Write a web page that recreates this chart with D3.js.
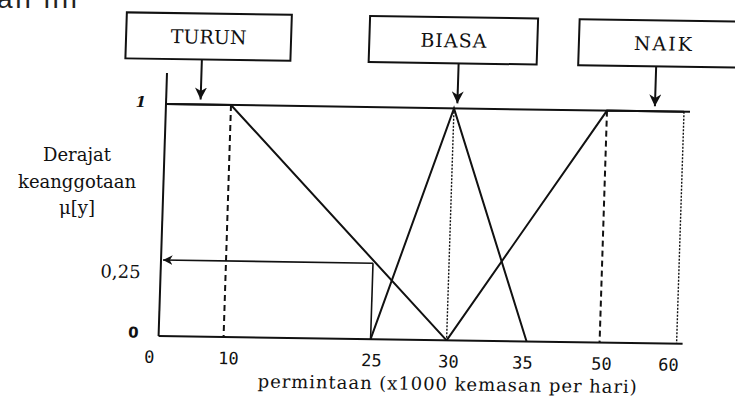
<!DOCTYPE html>
<html>
<head>
<meta charset="utf-8">
<script src="https://cdn.jsdelivr.net/npm/d3@7"></script>
<style>
  body { margin: 0; background: #fff; }
  svg { display: block; }
</style>
</head>
<body>
<div id="chart"></div>
<script>
// membership functions
var xTicks = [0, 10, 25, 30, 35, 50, 60];
var xTickLabels = ["0", "10", "25", "30", "35", "50", "60"];
var yTicks = [0, 0.25, 1];
var yTickLabels = ["0", "0,25", "1"];

var turun = [[0, 1], [10, 1], [30, 0]];
var biasa = [[25, 0], [30, 1], [35, 0]];
var naik = [[30, 0], [50, 1], [60, 1]];

var dashedAt = [10, 50];
var dottedAt = [30, 60];

var queryX = 25, queryMu = 0.25;

var setNames = ["TURUN", "BIASA", "NAIK"];
var setArrowX = [5.3, 30.2, 56.2];

function drawChart() {
    var width = 735, height = 408,
        plotW = 518, plotH = 232;

    // the printed axis is not evenly spaced, so the scale is piecewise
    var x = d3.scaleLinear().domain(xTicks).range([0, 65, 212, 288, 368, 441, plotW]),
        y = d3.scaleLinear().domain(yTicks).range([plotH, 156, 0]);

    var line = d3.line()
        .x(function (d) { return x(d[0]); })
        .y(function (d) { return y(d[1]); });

    var svg = d3.select("#chart").append("svg")
        .attr("width", width)
        .attr("height", height);

    svg.append("rect").attr("width", width).attr("height", height).attr("fill", "#fff");

    var defs = svg.append("defs");
    defs.append("marker")
        .attr("id", "head")
        .attr("viewBox", "0 0 10 10")
        .attr("refX", 10).attr("refY", 5)
        .attr("markerWidth", 6).attr("markerHeight", 6)
        .attr("markerUnits", "strokeWidth")
        .attr("orient", "auto")
        .append("path")
        .attr("d", "M0,0L10,5L0,10L3,5Z")
        .attr("fill", "#111");

    // cut-off line of the page above the figure (cut in the scan too)
    svg.append("text")
        .attr("x", -3).attr("y", 8)
        .attr("font-family", "Liberation Sans, Arial, sans-serif")
        .attr("font-size", 28)
        .attr("textLength", 80)
        .attr("fill", "#222")
        .text("an ini");

    // y axis title
    var ytitle = svg.append("text")
        .attr("font-family", "DejaVu Serif, serif")
        .attr("font-size", 18)
        .attr("text-anchor", "middle")
        .attr("fill", "#111");
    ["Derajat", "keanggotaan", "\u03bc[y]"].forEach(function (t, i) {
        ytitle.append("tspan")
            .attr("x", 77)
            .attr("y", 161 + i * 26.5)
            .text(t);
    });

    // the scan is slightly rotated and skewed
    var g = svg.append("g")
        .attr("transform", "matrix(1,0.015,-0.032,1,166,104)");

    // frame: left axis, bottom axis, line at mu = 1
    g.append("line").attr("x1", 0).attr("x2", 0).attr("y1", -31).attr("y2", plotH)
        .attr("stroke", "#111").attr("stroke-width", 2);
    g.append("line").attr("x1", 0).attr("x2", plotW + 6).attr("y1", plotH).attr("y2", plotH)
        .attr("stroke", "#111").attr("stroke-width", 2);
    g.append("line").attr("x1", 0).attr("x2", plotW + 6).attr("y1", y(1)).attr("y2", y(1))
        .attr("stroke", "#111").attr("stroke-width", 2);

    g.selectAll(".dashed")
        .data(dashedAt)
        .enter().append("line")
        .attr("class", "dashed")
        .attr("x1", x).attr("x2", x)
        .attr("y1", y(1)).attr("y2", y(0))
        .attr("stroke", "#111").attr("stroke-width", 2)
        .attr("stroke-dasharray", "6,4");

    g.selectAll(".dotted")
        .data(dottedAt)
        .enter().append("line")
        .attr("class", "dotted")
        .attr("x1", x).attr("x2", x)
        .attr("y1", y(1)).attr("y2", y(0))
        .attr("stroke", "#111").attr("stroke-width", 1.4)
        .attr("stroke-dasharray", "2,1.5");

    [turun, biasa, naik].forEach(function (s) {
        g.append("path")
            .datum(s)
            .attr("d", line)
            .attr("fill", "none")
            .attr("stroke", "#111")
            .attr("stroke-width", 2);
    });

    // reading mu at 25
    g.append("line")
        .attr("x1", x(queryX)).attr("x2", x(queryX))
        .attr("y1", y(0)).attr("y2", y(queryMu))
        .attr("stroke", "#111").attr("stroke-width", 1.6);
    g.append("line")
        .attr("x1", x(queryX)).attr("x2", x(0) + 2)
        .attr("y1", y(queryMu)).attr("y2", y(queryMu))
        .attr("stroke", "#111").attr("stroke-width", 1.6)
        .attr("marker-end", "url(#head)");

    // tick labels, nudged like the printed ones
    var tickNudge = [-9, 5, 1, 2, -4, 2, -8];

    var xAxis = d3.axisBottom(x)
        .tickValues(xTicks)
        .tickSize(0)
        .tickFormat(function (d, i) { return xTickLabels[i]; });

    var xg = g.append("g")
        .attr("transform", "translate(0," + (plotH + 12) + ")")
        .call(xAxis);
    xg.select(".domain").remove();
    xg.selectAll("text")
        .attr("font-family", "DejaVu Sans Mono, monospace")
        .attr("font-size", 17)
        .attr("fill", "#111")
        .attr("dx", function (d, i) { return tickNudge[i]; });

    var yAxis = d3.axisLeft(y)
        .tickValues(yTicks)
        .tickSize(0)
        .tickPadding(20)
        .tickFormat(function (d, i) { return yTickLabels[i]; });

    var yg = g.append("g").call(yAxis);
    yg.select(".domain").remove();
    yg.selectAll("text")
        .attr("fill", "#111")
        .attr("font-family", function (d) { return d === 0 ? "DejaVu Sans, sans-serif" : "DejaVu Serif, serif"; })
        .attr("font-size", function (d) { return d === 0.25 ? 18 : 15; })
        .attr("font-weight", function (d) { return d === 0.25 ? "normal" : "bold"; })
        .attr("font-style", function (d) { return d === 1 ? "italic" : "normal"; })
        .attr("dy", function (d) { return d === 0.25 ? "1.0em" : d === 0 ? "0.1em" : "0.2em"; });

    g.append("text")
        .attr("x", 290)
        .attr("y", 282)
        .attr("text-anchor", "middle")
        .attr("font-family", "DejaVu Serif, serif")
        .attr("font-size", 18)
        .attr("textLength", 379)
        .attr("fill", "#111")
        .text("permintaan (x1000 kemasan per hari)");

    // set name boxes with arrows down to mu = 1
    var boxOffset = [6, -6, 6];
    var boxW = [165, 168, 168];
    var labelW = [76, 66, 58];

    var sets = g.selectAll(".set")
        .data(setNames)
        .enter().append("g")
        .attr("class", "set");

    sets.append("rect")
        .attr("x", function (d, i) { return x(setArrowX[i]) + boxOffset[i] - boxW[i] / 2; })
        .attr("y", -91)
        .attr("width", function (d, i) { return boxW[i]; })
        .attr("height", 46)
        .attr("fill", "#fff")
        .attr("stroke", "#111")
        .attr("stroke-width", 2);

    sets.append("text")
        .attr("x", function (d, i) { return x(setArrowX[i]) + boxOffset[i]; })
        .attr("y", -61)
        .attr("text-anchor", "middle")
        .attr("font-family", "DejaVu Serif, serif")
        .attr("font-size", 19)
        .attr("textLength", function (d, i) { return labelW[i]; })
        .attr("fill", "#111")
        .text(function (d) { return d; });

    sets.append("line")
        .attr("x1", function (d, i) { return x(setArrowX[i]); })
        .attr("x2", function (d, i) { return x(setArrowX[i]); })
        .attr("y1", -45)
        .attr("y2", -5)
        .attr("stroke", "#111")
        .attr("stroke-width", 2)
        .attr("marker-end", "url(#head)");
}

drawChart();
</script>
</body>
</html>
